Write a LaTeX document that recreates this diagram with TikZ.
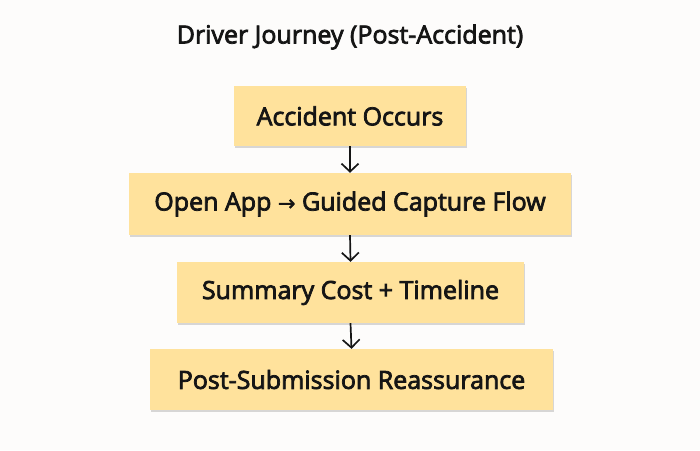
\documentclass[tikz,border=0pt]{standalone}
\usepackage{fontspec}
\setmainfont{Open Sans}[RawFeature={embolden=3}]
\newfontfamily\arrowfont{DejaVu Sans}[RawFeature={embolden=2}]
\usetikzlibrary{arrows.meta, shadows}
\definecolor{stepfill}{HTML}{FFE29C}
\definecolor{pagebg}{HTML}{FDFCFB}
\definecolor{inkdark}{HTML}{151515}
\tikzset{
	stepbox/.style={fill=stepfill, draw=none, minimum height=61pt, inner sep=0pt,
		font=\fontsize{25}{28}\selectfont, text=inkdark,
		drop shadow={shadow xshift=1pt, shadow yshift=-2pt, opacity=.25, fill=black!60}},
	flow/.style={line width=1.7pt, draw=inkdark, -{Straight Barb[length=8pt, width=17pt, line width=1.7pt]}}
}
\begin{document}
\begin{tikzpicture}[x=1pt, y=1pt]
		\fill[pagebg](0, 0) rectangle (700, 450);
		\useasboundingbox(0, 0) rectangle (700, 450);
		\node[font=\fontsize{25}{28}\selectfont, text=inkdark](title) at (350, 413){Driver Journey (Post-Accident)};
		\node[stepbox, minimum width=232pt, minimum height=60pt](occur) at (350, 334){Accident Occurs};
		\node[stepbox, minimum width=442pt, minimum height=62pt](capture) at (350, 246){Open App {\arrowfont\fontsize{21}{24}\selectfont →} Guided Capture Flow};
		\node[stepbox, minimum width=347pt](summary) at (350.5, 157.5){Summary Cost + Timeline};
		\node[stepbox, minimum width=403pt](reassure) at (351.5, 70.5){Post-Submission Reassurance};
		\draw[flow](occur.south)--(capture.north);
		\draw[flow](capture.south)--(summary.north);
		\draw[flow](summary.south)--(reassure.north);
	\end{tikzpicture}
\end{document}
